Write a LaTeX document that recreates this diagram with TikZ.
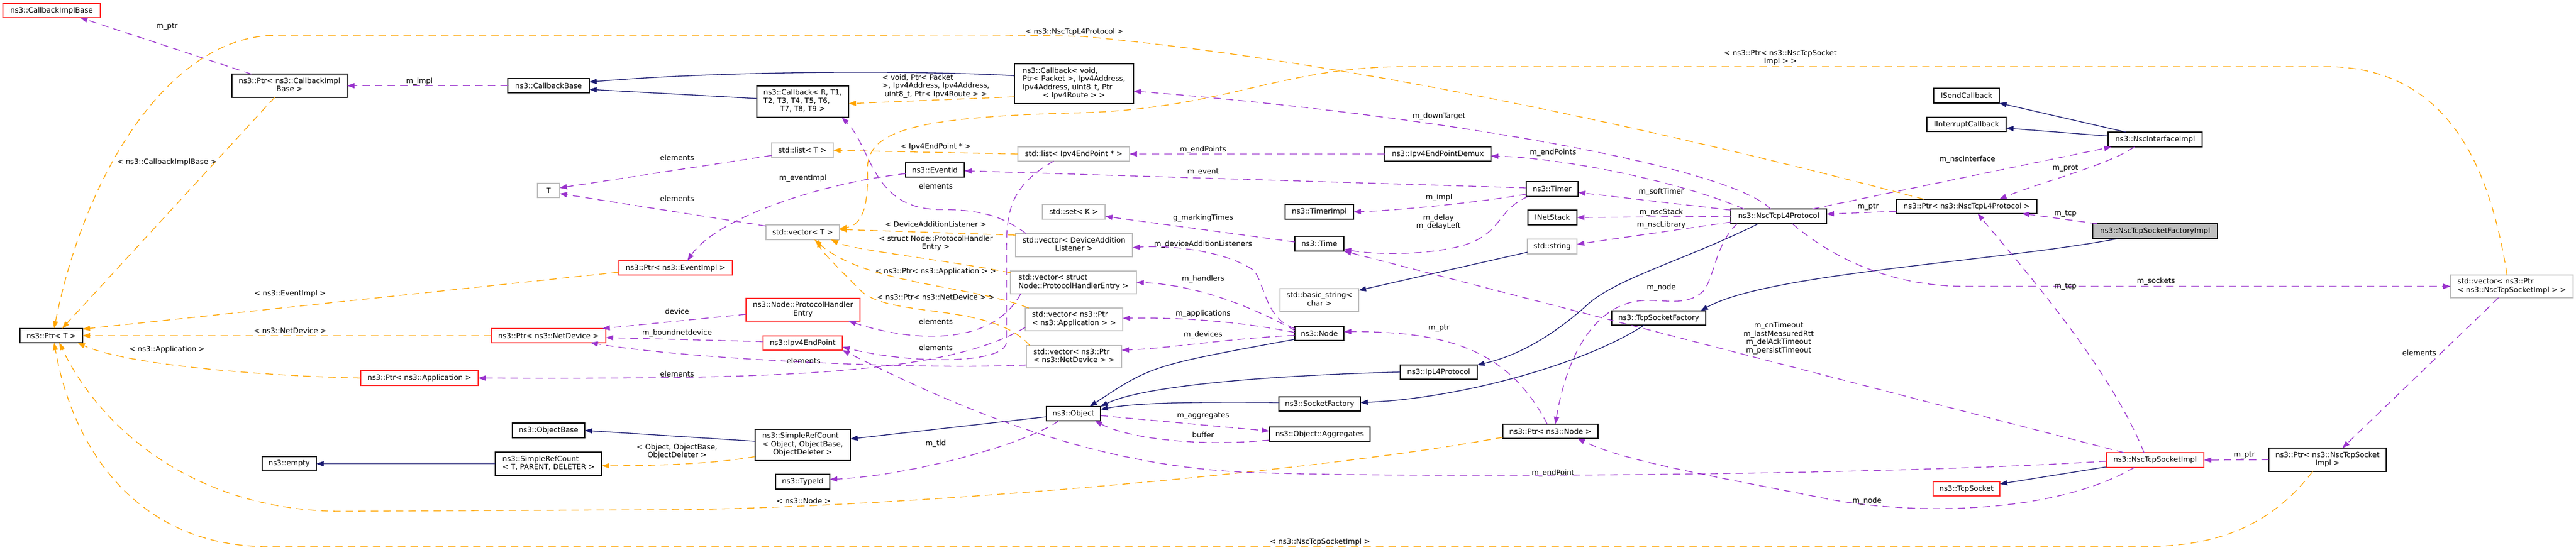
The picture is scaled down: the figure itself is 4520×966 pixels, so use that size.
\documentclass[tikz,border=0pt]{standalone}
\usepackage{fontspec}
\setmainfont{DejaVu Sans}
\usetikzlibrary{arrows.meta}
\definecolor{pc}{HTML}{9A32CD}
\definecolor{oc}{HTML}{FFA500}
\definecolor{bc}{HTML}{191970}
\definecolor{rc}{HTML}{FF3030}
\definecolor{gc}{HTML}{BFBFBF}
\newcommand{\ml}[2]{\begin{tabular}{@{}l@{}}#1\\\multicolumn{1}{@{}c@{}}{#2}\end{tabular}}
\begin{document}
\begin{tikzpicture}[x=1pt,y=-1pt,
  every node/.style={font=\fontsize{12.8}{14.5}\selectfont, inner sep=0pt, outer sep=0pt},
  bk/.style={draw=black, line width=1.3pt, fill=white, align=center},
  rd/.style={bk, draw=rc},
  gy/.style={bk, draw=gc},
  fc/.style={bk, fill=gc},
  lb/.style={align=center},
  pe/.style={draw=pc, line width=1.3pt, dash pattern=on 13pt off 9pt, -{Triangle[length=13pt,width=9pt]}},
  oe/.style={pe, draw=oc},
  be/.style={draw=bc, line width=1.3pt, -{Triangle[length=13pt,width=9pt]}},
]
\useasboundingbox (0,0) rectangle (4520,966);
% ---------- nodes
\node[rd, minimum width=171pt, minimum height=25pt] (cbib) at (90.5,18.5) {ns3::CallbackImplBase};
\node[bk, minimum width=202pt, minimum height=41pt] (ptrcbib) at (508,150.5) {\ml{ns3::Ptr< ns3::CallbackImpl}{Base >}};
\node[bk, minimum width=110pt, minimum height=25pt] (ptrT) at (90,589.5) {ns3::Ptr< T >};
\node[rd, minimum width=206pt, minimum height=26pt] (ptrapp) at (736,664) {ns3::Ptr< ns3::Application >};
\node[bk, minimum width=95pt, minimum height=25pt] (nempty) at (507.5,814.5) {ns3::empty};
\node[bk, minimum width=143pt, minimum height=25pt] (cbbase) at (962.5,150.5) {ns3::CallbackBase};
\node[bk, minimum width=161pt, minimum height=55pt] (cbR) at (1408.5,178.5) {\ml{ns3::Callback< R, T1,\\T2, T3, T4, T5, T6,}{T7, T8, T9 >}};
\node[gy, minimum width=108pt, minimum height=26pt] (listT) at (1408,264) {std::list< T >};
\node[gy, minimum width=39pt, minimum height=25pt] (tT) at (962.5,334.5) {T};
\node[gy, minimum width=129pt, minimum height=26pt] (vecT) at (1408.5,408) {std::vector< T >};
\node[rd, minimum width=199pt, minimum height=25pt] (ptrev) at (1185.5,470.5) {ns3::Ptr< ns3::EventImpl >};
\node[rd, minimum width=200pt, minimum height=40pt] (phe) at (1409,544) {\ml{ns3::Node::ProtocolHandler}{Entry}};
\node[rd, minimum width=201pt, minimum height=25pt] (ptrnd) at (962.5,589.5) {ns3::Ptr< ns3::NetDevice >};
\node[rd, minimum width=139pt, minimum height=25pt] (iep) at (1408.5,602.5) {ns3::Ipv4EndPoint};
\node[bk, minimum width=127pt, minimum height=26pt] (objbase) at (962.5,756) {ns3::ObjectBase};
\node[bk, minimum width=187pt, minimum height=41pt] (srcT) at (962.5,814.5) {\ml{ns3::SimpleRefCount}{< T, PARENT, DELETER >}};
\node[bk, minimum width=167pt, minimum height=55pt] (srcO) at (1408.5,781.5) {\ml{ns3::SimpleRefCount\\< Object, ObjectBase,}{ObjectDeleter >}};
\node[bk, minimum width=95pt, minimum height=26pt] (typeid) at (1408.5,846) {ns3::TypeId};
\node[bk, minimum width=209pt, minimum height=70pt] (cbvoid) at (1884.5,147) {\ml{ns3::Callback< void,\\ Ptr< Packet >, Ipv4Address,\\Ipv4Address, uint8\_t, Ptr}{< Ipv4Route > >}};
\node[gy, minimum width=196pt, minimum height=25pt] (listiep) at (1884,270.5) {std::list< Ipv4EndPoint * >};
\node[bk, minimum width=103pt, minimum height=25pt] (eventid) at (1640.5,298.5) {ns3::EventId};
\node[gy, minimum width=110pt, minimum height=26pt] (setK) at (1884,372) {std::set< K >};
\node[gy, minimum width=205pt, minimum height=41pt] (vecdal) at (1884.5,430.5) {\ml{std::vector< DeviceAddition}{Listener >}};
\node[gy, minimum width=221pt, minimum height=40pt] (vecphe) at (1883.5,496) {\ml{std::vector< struct}{Node::ProtocolHandlerEntry >}};
\node[gy, minimum width=171pt, minimum height=40pt] (vecapp) at (1884.5,561) {\ml{std::vector< ns3::Ptr}{< ns3::Application > >}};
\node[gy, minimum width=167pt, minimum height=39pt] (vecnd) at (1884.5,626.5) {\ml{std::vector< ns3::Ptr}{< ns3::NetDevice > >}};
\node[bk, minimum width=95pt, minimum height=25pt] (obj) at (1883.5,726.5) {ns3::Object};
\node[bk, minimum width=177pt, minimum height=25pt] (aggr) at (2315.5,762.5) {ns3::Object::Aggregates};
\node[bk, minimum width=143pt, minimum height=25pt] (sockfac) at (2315.5,709.5) {ns3::SocketFactory};
\node[gy, minimum width=138pt, minimum height=40pt] (bstr) at (2315,527) {\ml{std::basic\_string<}{char >}};
\node[bk, minimum width=86pt, minimum height=25pt] (nnode) at (2315,585.5) {ns3::Node};
\node[bk, minimum width=186pt, minimum height=25pt] (demux) at (2523,270.5) {ns3::Ipv4EndPointDemux};
\node[bk, minimum width=91pt, minimum height=26pt] (timer) at (2723.5,332) {ns3::Timer};
\node[bk, minimum width=120pt, minimum height=26pt] (timerimpl) at (2315,372) {ns3::TimerImpl};
\node[bk, minimum width=86pt, minimum height=26pt] (ntime) at (2315,428) {ns3::Time};
\node[bk, minimum width=86pt, minimum height=26pt] (inetstack) at (2724,382) {INetStack};
\node[gy, minimum width=87pt, minimum height=26pt] (sstr) at (2723.5,433) {std::string};
\node[bk, minimum width=135pt, minimum height=25pt] (ipl4) at (2524.5,653.5) {ns3::IpL4Protocol};
\node[bk, minimum width=165pt, minimum height=25pt] (tcpsf) at (2910.5,558.5) {ns3::TcpSocketFactory};
\node[bk, minimum width=167pt, minimum height=25pt] (ptrnode) at (2720.5,757.5) {ns3::Ptr< ns3::Node >};
\node[bk, minimum width=115pt, minimum height=26pt] (isend) at (3450.5,168) {ISendCallback};
\node[bk, minimum width=139pt, minimum height=25pt] (iint) at (3450.5,218.5) {IInterruptCallback};
\node[bk, minimum width=165pt, minimum height=26pt] (nscif) at (3781.5,245) {ns3::NscInterfaceImpl};
\node[bk, minimum width=246pt, minimum height=25pt] (ptrntl4) at (3451,362.5) {ns3::Ptr< ns3::NscTcpL4Protocol >};
\node[bk, minimum width=168pt, minimum height=26pt] (ntl4) at (3121,380) {ns3::NscTcpL4Protocol};
\node[fc, minimum width=219pt, minimum height=26pt] (focus) at (3781.5,406) {ns3::NscTcpSocketFactoryImpl};
\node[rd, minimum width=171pt, minimum height=26pt] (nsi) at (3781.5,808) {ns3::NscTcpSocketImpl};
\node[rd, minimum width=117pt, minimum height=25pt] (tcpsock) at (3450.5,858.5) {ns3::TcpSocket};
\node[gy, minimum width=215pt, minimum height=40pt] (vecnsi) at (4407.5,503) {\ml{std::vector< ns3::Ptr}{< ns3::NscTcpSocketImpl > >}};
\node[bk, minimum width=206pt, minimum height=41pt] (ptrnsi) at (4084,807.5) {\ml{ns3::Ptr< ns3::NscTcpSocket}{Impl >}};
% ---------- edges
\draw[pe] ([xshift=-67pt]ptrcbib.north) -- ([xshift=50pt]cbib.south);
\draw[pe] (cbbase.west) -- (ptrcbib.east);
\draw[oe] ([xshift=-26pt]ptrcbib.south) -- ([xshift=19pt]ptrT.north);
\draw[be] ([yshift=14pt]cbvoid.west) .. controls (1650,125) and (1300,122) .. ([yshift=6.5pt]cbbase.east);
\draw[be] ([yshift=5.5pt]cbR.west) -- ([yshift=-6.5pt]cbbase.east);
\draw[oe] ([yshift=-23pt]cbvoid.west) -- ([yshift=-3.5pt]cbR.east);
\draw[pe] ([xshift=-14pt]ntl4.north) .. controls (3030,290) and (2500,200) .. ([yshift=-13pt]cbvoid.east);
\draw[oe] (listiep.west) -- (listT.east);
\draw[pe] ([yshift=-9pt]listT.west) -- ([yshift=4.5pt]tT.east);
\draw[pe] ([yshift=11pt]vecT.west) -- ([yshift=-5.5pt]tT.east);
\draw[pe] ([yshift=-6.5pt]eventid.west) .. controls (1450,320) and (1260,380) .. ([xshift=20.5pt]ptrev.north);
\draw[oe] ([yshift=-7.5pt]ptrev.west) -- ([yshift=11.5pt]ptrT.east);
\draw[oe] (ptrnd.west) -- (ptrT.east);
\draw[oe] (ptrapp.west) .. controls (450,660) and (220,640) .. ([xshift=-9pt]ptrT.south east);
\draw[pe] ([yshift=-8pt]phe.west) -- ([xshift=-6pt]ptrnd.north east);
\draw[pe] ([yshift=2.5pt]iep.west) -- ([yshift=-3.5pt]ptrnd.east);
\draw[pe] ([yshift=-14.5pt]vecnd.west) .. controls (1600,650) and (1200,630) .. ([xshift=73.5pt]ptrnd.south);
\draw[pe] ([yshift=-14pt]vecapp.west) .. controls (1650,665) and (1300,665) .. (ptrapp.east);
\draw[pe] ([xshift=-92.5pt]vecphe.south) .. controls (1740,610) and (1600,600) .. ([xshift=-20pt]phe.south east);
\draw[pe] ([xshift=-84.5pt]vecdal.north) .. controls (1760,380) and (1720,368) .. (1650,368) .. controls (1530,368) and (1530,260) .. ([xshift=-12pt]cbR.south east);
\draw[oe] ([yshift=17.5pt]vecdal.west) -- ([yshift=5pt]vecT.east);
\draw[oe] ([yshift=17pt]vecphe.west) .. controls (1650,455) and (1500,440) .. ([xshift=-15pt]vecT.south east);
\draw[oe] ([xshift=6pt]vecapp.north west) .. controls (1700,500) and (1520,500) .. ([xshift=20.5pt]vecT.south);
\draw[oe] ([xshift=6pt]vecnd.north west) .. controls (1740,530) and (1560,560) .. (1510,510) .. controls (1470,470) and (1440,440) .. ([xshift=27pt]vecT.south);
\draw[oe] ([xshift=-8.5pt]vecnsi.north) .. controls (4370,300) and (4300,117) .. (4080,117) -- (2468,117) .. controls (2250,117) and (2150,190) .. (1900,198) .. controls (1600,205) and (1520,230) .. (1522,300) .. controls (1524,370) and (1510,395) .. ([yshift=6pt]vecT.east);
\draw[oe] ([xshift=-75pt]ptrntl4.north) .. controls (3000,250) and (2400,110) .. (1900,64) .. controls (1750,60) and (1600,62) .. (1500,62) -- (485,62) .. controls (300,62) and (150,300) .. ([xshift=5pt]ptrT.north);
\draw[oe] ([yshift=-10.5pt]ptrnode.west) .. controls (2300,830) and (1600,890) .. (1200,895) -- (600,898) .. controls (350,898) and (180,760) .. ([xshift=14pt]ptrT.south);
\draw[oe] ([xshift=-26pt]ptrnsi.south) .. controls (3980,930) and (3880,960) .. (3760,960) -- (470,960) .. controls (250,960) and (130,800) .. ([xshift=5pt]ptrT.south);
\draw[oe] ([yshift=-20.5pt]srcO.west) .. controls (1250,815) and (1150,818) .. ([yshift=-3.5pt]srcT.east);
\draw[be] (srcT.west) -- (nempty.east);
\draw[be] ([yshift=6.5pt]srcO.west) -- (objbase.east);
\draw[be] ([yshift=-5.5pt]obj.west) -- ([yshift=10.5pt]srcO.east);
\draw[be] ([yshift=-10.5pt]nnode.west) .. controls (2021,642) .. ([xshift=28.5pt]obj.north);
\draw[be] (ipl4.west) .. controls (2200,660) and (2000,680) .. (obj.north east);
\draw[be] ([yshift=2.5pt]sockfac.west) .. controls (2050,705) and (1980,710) .. ([yshift=7.5pt]obj.east);
\draw[be] ([xshift=-36pt]ntl4.south) .. controls (2950,460) and (2830,490) .. (2780,540) .. controls (2700,610) and (2640,630) .. (ipl4.north east);
\draw[be] ([xshift=-25.5pt]tcpsf.south) .. controls (2780,640) and (2560,700) .. ([yshift=2.5pt]sockfac.east);
\draw[be] ([xshift=-64.5pt]focus.south) .. controls (3500,460) and (3100,480) .. ([xshift=-9pt]tcpsf.north east);
\draw[be] ([xshift=-51.5pt]nscif.north) -- (isend.south east);
\draw[be] ([yshift=6pt]nscif.west) -- ([yshift=-6.5pt]iint.east);
\draw[be] ([yshift=-10pt]sstr.west) -- ([yshift=-3pt]bstr.north east);
\draw[be] ([yshift=-12pt]nsi.west) -- ([yshift=8.5pt]tcpsock.east);
\draw[pe] ([yshift=-8.5pt]ptrntl4.west) -- ([yshift=4pt]ntl4.east);
\draw[pe] ([xshift=-36.5pt]nscif.south) .. controls (3700,290) and (3580,320) .. ([xshift=57pt]ptrntl4.north);
\draw[pe] ([xshift=59pt]ntl4.north) -- ([xshift=6pt]nscif.south west);
\draw[pe] ([xshift=8pt]focus.north west) -- ([xshift=-26pt]ptrntl4.south east);
\draw[pe] ([xshift=-19.5pt]nsi.north) .. controls (3700,640) and (3540,460) .. ([xshift=19pt]ptrntl4.south);
\draw[pe] ([xshift=-61pt]ntl4.north) .. controls (2950,320) and (2750,278) .. ([yshift=-3.5pt]demux.east);
\draw[pe] (demux.west) -- (listiep.east);
\draw[pe] ([yshift=11pt]ntl4.west) -- ([yshift=-6pt]timer.east);
\draw[pe] (ntl4.west) -- (inetstack.east);
\draw[pe] ([yshift=-10pt]ntl4.west) -- ([yshift=4pt]sstr.east);
\draw[pe] ([yshift=2pt]timer.west) -- ([yshift=-1.5pt]eventid.east);
\draw[pe] ([yshift=-9pt]timer.west) .. controls (2600,355) and (2450,370) .. (timerimpl.east);
\draw[pe] ([xshift=4pt]timer.south west) .. controls (2620,370) and (2640,420) .. (2541,437) .. controls (2470,450) and (2400,445) .. ([yshift=-10pt]ntime.east);
\draw[pe] ([xshift=-54.5pt]nsi.north) -- (ntime.south east);
\draw[pe] ([yshift=3pt]ntime.west) -- ([yshift=-8pt]setK.east);
\draw[pe] ([yshift=8.5pt]nnode.west) .. controls (2220,560) and (2220,500) .. (2200,475) .. controls (2150,440) and (2050,430) .. ([yshift=-4.5pt]vecdal.east);
\draw[pe] ([yshift=5pt]nnode.west) .. controls (2200,540) and (2100,500) .. (vecphe.east);
\draw[pe] ([yshift=1.5pt]nnode.west) .. controls (2150,560) and (2050,558) .. ([yshift=2pt]vecapp.east);
\draw[pe] ([yshift=-3.5pt]nnode.west) .. controls (2150,595) and (2050,612) .. ([yshift=11.5pt]vecnd.east);
\draw[pe] ([yshift=-3.5pt]obj.east) -- ([yshift=5.5pt]aggr.west);
\draw[pe] ([yshift=-10.5pt]aggr.west) .. controls (2100,785) and (1980,770) .. ([xshift=-10pt]obj.south east);
\draw[pe] ([xshift=-25.5pt]obj.south) .. controls (1800,780) and (1600,835) .. ([yshift=4pt]typeid.east);
\draw[pe] ([xshift=-5.5pt]ptrnode.north) .. controls (2650,620) and (2550,582) .. ([yshift=3pt]nnode.east);
\draw[pe] ([xshift=-73pt]ntl4.south) .. controls (3010,430) and (3010,480) .. (2990,510) .. controls (2960,540) and (2920,525) .. (2880,528) .. controls (2800,535) and (2750,620) .. ([xshift=8.5pt]ptrnode.north);
\draw[pe] ([xshift=-36.5pt]nsi.south) .. controls (3600,905) and (3350,905) .. (3200,875) .. controls (3000,835) and (2850,810) .. ([xshift=-36pt]ptrnode.south east);
\draw[pe] ([yshift=-2pt]nsi.west) .. controls (3300,835) and (2500,840) .. (2200,830) .. controls (1900,820) and (1650,700) .. (iep.south east);
\draw[pe] ([xshift=-35pt]listiep.south) .. controls (1766,330) and (1766,380) .. (1766,450) -- (1766,600) .. controls (1766,640) and (1600,640) .. ([yshift=-7pt]iep.east);
\draw[pe] ([xshift=24pt]ntl4.south) .. controls (3200,440) and (3300,503) .. (3450,503) -- (vecnsi.west);
\draw[pe] ([xshift=-23.5pt]vecnsi.south) -- ([xshift=26pt]ptrnsi.north);
\draw[pe] (ptrnsi.west) -- (nsi.east);
% ---------- labels
\node[lb] (l01) at (293,47) {m\_ptr};
\node[lb] (l02) at (736,143) {m\_impl};
\node[lb] (l03) at (293,285) {< ns3::CallbackImplBase >};
\node[lb] (l04) at (509,516) {< ns3::EventImpl >};
\node[lb] (l05) at (509,581) {< ns3::NetDevice >};
\node[lb] (l06) at (293,614) {< ns3::Application >};
\node[lb] (l07) at (1188,277) {elements};
\node[lb] (l08) at (1188,349) {elements};
\node[lb] (l09) at (1409,313) {m\_eventImpl};
\node[lb] (l10) at (1188,547) {device};
\node[lb] (l11) at (1188,585) {m\_boundnetdevice};
\node[lb] (l12) at (1410,634) {elements};
\node[lb] (l13) at (1188,657) {elements};
\node[lb] (l14) at (1188,793) {< Object, ObjectBase,\\ObjectDeleter >};
\node[lb] (l15) at (1410,880) {< ns3::Node >};
\node[lb] (l16) at (1885,56) {< ns3::NscTcpL4Protocol >};
\node[anchor=west] (l17) at (1548,152) {\ml{< void, Ptr< Packet\\>, Ipv4Address, Ipv4Address,}{uint8\_t, Ptr< Ipv4Route > >}};
\node[lb] (l18) at (1642,258) {< Ipv4EndPoint * >};
\node[lb] (l19) at (1642,327) {elements};
\node[lb] (l20) at (2111,263) {m\_endPoints};
\node[lb] (l21) at (2111,303) {m\_event};
\node[lb] (l22) at (2111,383) {g\_markingTimes};
\node[lb] (l23) at (1642,394) {< DeviceAdditionListener >};
\node[lb] (l24) at (1642,427) {< struct Node::ProtocolHandler\\Entry >};
\node[lb] (l25) at (2111,429) {m\_deviceAdditionListeners};
\node[lb] (l26) at (1642,477) {< ns3::Ptr< ns3::Application > >};
\node[lb] (l27) at (2111,490) {m\_handlers};
\node[lb] (l28) at (1642,522) {< ns3::Ptr< ns3::NetDevice > >};
\node[lb] (l29) at (2111,551) {m\_applications};
\node[lb] (l30) at (2111,588) {m\_devices};
\node[lb] (l31) at (1642,565) {elements};
\node[lb] (l32) at (1642,611) {elements};
\node[lb] (l33) at (2111,731) {m\_aggregates};
\node[lb] (l34) at (2111,764) {buffer};
\node[lb] (l35) at (1642,779) {m\_tid};
\node[lb] (l36) at (2525,204) {m\_downTarget};
\node[lb] (l37) at (2725,268) {m\_endPoints};
\node[lb] (l38) at (2525,347) {m\_impl};
\node[lb] (l39) at (2524,390) {m\_delay\\m\_delayLeft};
\node[lb] (l40) at (2915,337) {m\_softTimer};
\node[lb] (l41) at (2915,373) {m\_nscStack};
\node[lb] (l42) at (2915,395) {m\_nscLibrary};
\node[lb] (l43) at (2525,577) {m\_ptr};
\node[lb] (l44) at (2915,505) {m\_node};
\node[lb] (l45) at (2725,831) {m\_endPoint};
\node[lb] (l46) at (2316,952) {< ns3::NscTcpSocketImpl >};
\node[lb] (l47) at (3124,101) {< ns3::Ptr< ns3::NscTcpSocket\\Impl > >};
\node[lb] (l48) at (3452,280) {m\_nscInterface};
\node[lb] (l49) at (3624,296) {m\_prot};
\node[lb] (l50) at (3278,364) {m\_ptr};
\node[lb] (l51) at (3624,376) {m\_tcp};
\node[lb] (l52) at (3121,594) {m\_cnTimeout\\m\_lastMeasuredRtt\\m\_delAckTimeout\\m\_persistTimeout};
\node[lb] (l53) at (3624,504) {m\_tcp};
\node[lb] (l54) at (3276,880) {m\_node};
\node[lb] (l55) at (3783,494) {m\_sockets};
\node[lb] (l56) at (4245,620) {elements};
\node[lb] (l57) at (3938,800) {m\_ptr};
\end{tikzpicture}
\end{document}
